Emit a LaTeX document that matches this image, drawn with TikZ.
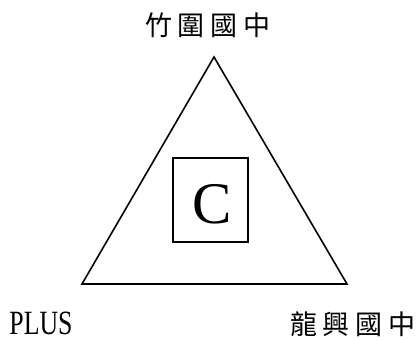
\documentclass[tikz,border=0pt]{standalone}
\usepackage{fontspec}
\setmainfont{Liberation Serif}
\newfontfamily\cjk{Noto Sans CJK TC}
\newcommand{\gap}{\hspace{6pt}}

\begin{document}
\begin{tikzpicture}[x=1pt, y=-1pt,
	edge/.style={draw, line width=1.6pt, line join=miter},
	school/.style={inner sep=0pt, font=\cjk\fontsize{27}{27}\selectfont}]
	\useasboundingbox (0,0) rectangle (416,340);
	% corners of the triangle
	\coordinate (top) at (214,57);
	\coordinate (left) at (82,284);
	\coordinate (right) at (347,284);
	\draw[edge] (top) -- (left) -- (right) -- cycle;
	% box in the middle
	\node[draw, line width=1.3pt, minimum width=75pt, minimum height=84pt, inner sep=0pt](box) at (210.5,200) {};
	\node[inner sep=0pt, font=\fontsize{59}{59}\selectfont](c) at (212,204) {C};
	% labels
	\node[school](zw) at (208,25) {竹\gap 圍\gap 國\gap 中};
	\node[school](lx) at (353,324) {龍\gap 興\gap 國\gap 中};
	\node[inner sep=0pt, font=\fontsize{34}{34}\selectfont](plus) at (41,323) {\scalebox{0.76}[1]{PLUS}};
\end{tikzpicture}
\end{document}
